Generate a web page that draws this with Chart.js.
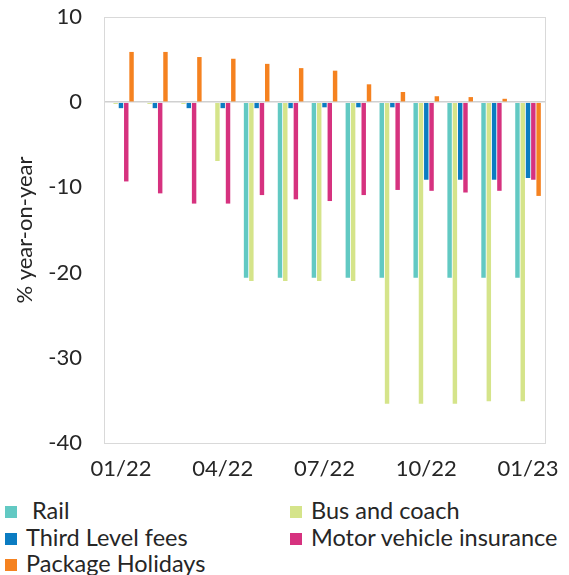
<!DOCTYPE html>
<html>
<head>
<meta charset="utf-8">
<script src="https://cdn.jsdelivr.net/npm/chart.js@4"></script>
<style>
  body { margin: 0; background: #fff; font-family: Lato, sans-serif; }
  #wrap { position: relative; width: 569px; height: 497px; }
  #legend {
    display: grid;
    grid-template-columns: 285px 284px;
    margin: 0 0 0 5px;
    font-size: 23.5px;
    color: #262626;
    line-height: 26.5px;
  }
  #legend span.box {
    display: inline-block; width: 12px; height: 12px; margin-right: 9px; vertical-align: 1px;
  }
</style>
</head>
<body>
<div id="wrap"><canvas id="chart" width="569" height="497"></canvas></div>
<div id="legend"></div>
<script>
const months = ["01/22", "02/22", "03/22", "04/22", "05/22", "06/22", "07/22",
                "08/22", "09/22", "10/22", "11/22", "12/22", "01/23"];

const rail     = [0, 0, 0, 0, -20.6, -20.6, -20.6, -20.6, -20.6, -20.6, -20.6, -20.6, -20.6];
const bus      = [-0.2, -0.2, -0.2, -6.9, -21.0, -21.0, -21.0, -21.0, -35.4, -35.4, -35.4, -35.1, -35.1];
const thirdLvl = [-0.7, -0.7, -0.7, -0.7, -0.7, -0.7, -0.6, -0.6, -0.6, -9.1, -9.1, -9.1, -8.9];
const motor    = [-9.3, -10.7, -11.9, -11.9, -10.9, -11.4, -11.6, -10.9, -10.3, -10.4, -10.6, -10.4, -9.1];
const pkgHol   = [5.9, 5.9, 5.3, 5.1, 4.5, 4.0, 3.7, 2.1, 1.2, 0.7, 0.6, 0.4, -11.0];

const yTicks = [10, 0, -10, -20, -30, -40];

const series = [
    { label: "Rail", data: rail, color: "#62c9c3" },
    { label: "Bus and coach", data: bus, color: "#d5e48a" },
    { label: "Third Level fees", data: thirdLvl, color: "#0b7cc2" },
    { label: "Motor vehicle insurance", data: motor, color: "#d6327f" },
    { label: "Package Holidays", data: pkgHol, color: "#f58220" }
];

// light grey box round the plot area
const frame = {
    id: "frame",
    afterDraw(chart) {
        const a = chart.chartArea, c = chart.ctx;
        c.save();
        c.strokeStyle = "#d9d9d9";
        c.lineWidth = 1;
        c.strokeRect(a.left + 0.5, a.top + 0.5, a.right - a.left, a.bottom - a.top);
        c.restore();
    }
};

const ctx = document.getElementById("chart").getContext("2d");
new Chart(ctx, {
    type: "bar",
    data: {
        labels: months,
        datasets: series.map(s => ({
            label: s.label,
            data: s.data,
            backgroundColor: s.color,
            barPercentage: 0.84,
            categoryPercentage: 0.78
        }))
    },
    options: {
        responsive: false,
        animation: false,
        layout: { padding: { top: 17, right: 24, left: 0, bottom: 0 } },
        plugins: {
            legend: { display: false },
            tooltip: { enabled: false }
        },
        scales: {
            x: {
                grid: { display: false, drawTicks: false },
                border: { display: false },
                ticks: {
                    autoSkip: false,
                    maxRotation: 0,
                    padding: 13,
                    color: "#262626",
                    font: { family: "Lato", size: 22 },
                    callback: (v, i) => i % 3 === 0 ? months[i] : ""
                },
                afterFit: s => { s.height = 497 - 443; s.paddingLeft = 0; s.paddingRight = 0; }
            },
            y: {
                min: -40,
                max: 10,
                afterBuildTicks: s => { s.ticks = yTicks.map(v => ({ value: v })); },
                grid: {
                    drawTicks: false,
                    color: c => c.tick && c.tick.value === 0 ? "#d0d0d0" : "transparent",
                    lineWidth: 1.5
                },
                border: { display: false },
                ticks: {
                    padding: 22,
                    color: "#262626",
                    font: { family: "Lato", size: 22 }
                },
                title: {
                    display: true,
                    text: "% year-on-year",
                    color: "#262626",
                    font: { family: "Lato", size: 22 },
                    padding: { top: 12, bottom: 0 }
                },
                afterFit: s => { s.width = 104; s.paddingTop = 0; s.paddingBottom = 0; }
            }
        }
    },
    plugins: [frame]
});

const legend = document.getElementById("legend");
series.forEach(s => {
    const div = document.createElement("div");
    div.innerHTML = '<span class="box" style="background:' + s.color + '"></span>' + (s.label === "Rail" ? "&nbsp;" : "") + s.label;
    legend.appendChild(div);
});
</script>
</body>
</html>
